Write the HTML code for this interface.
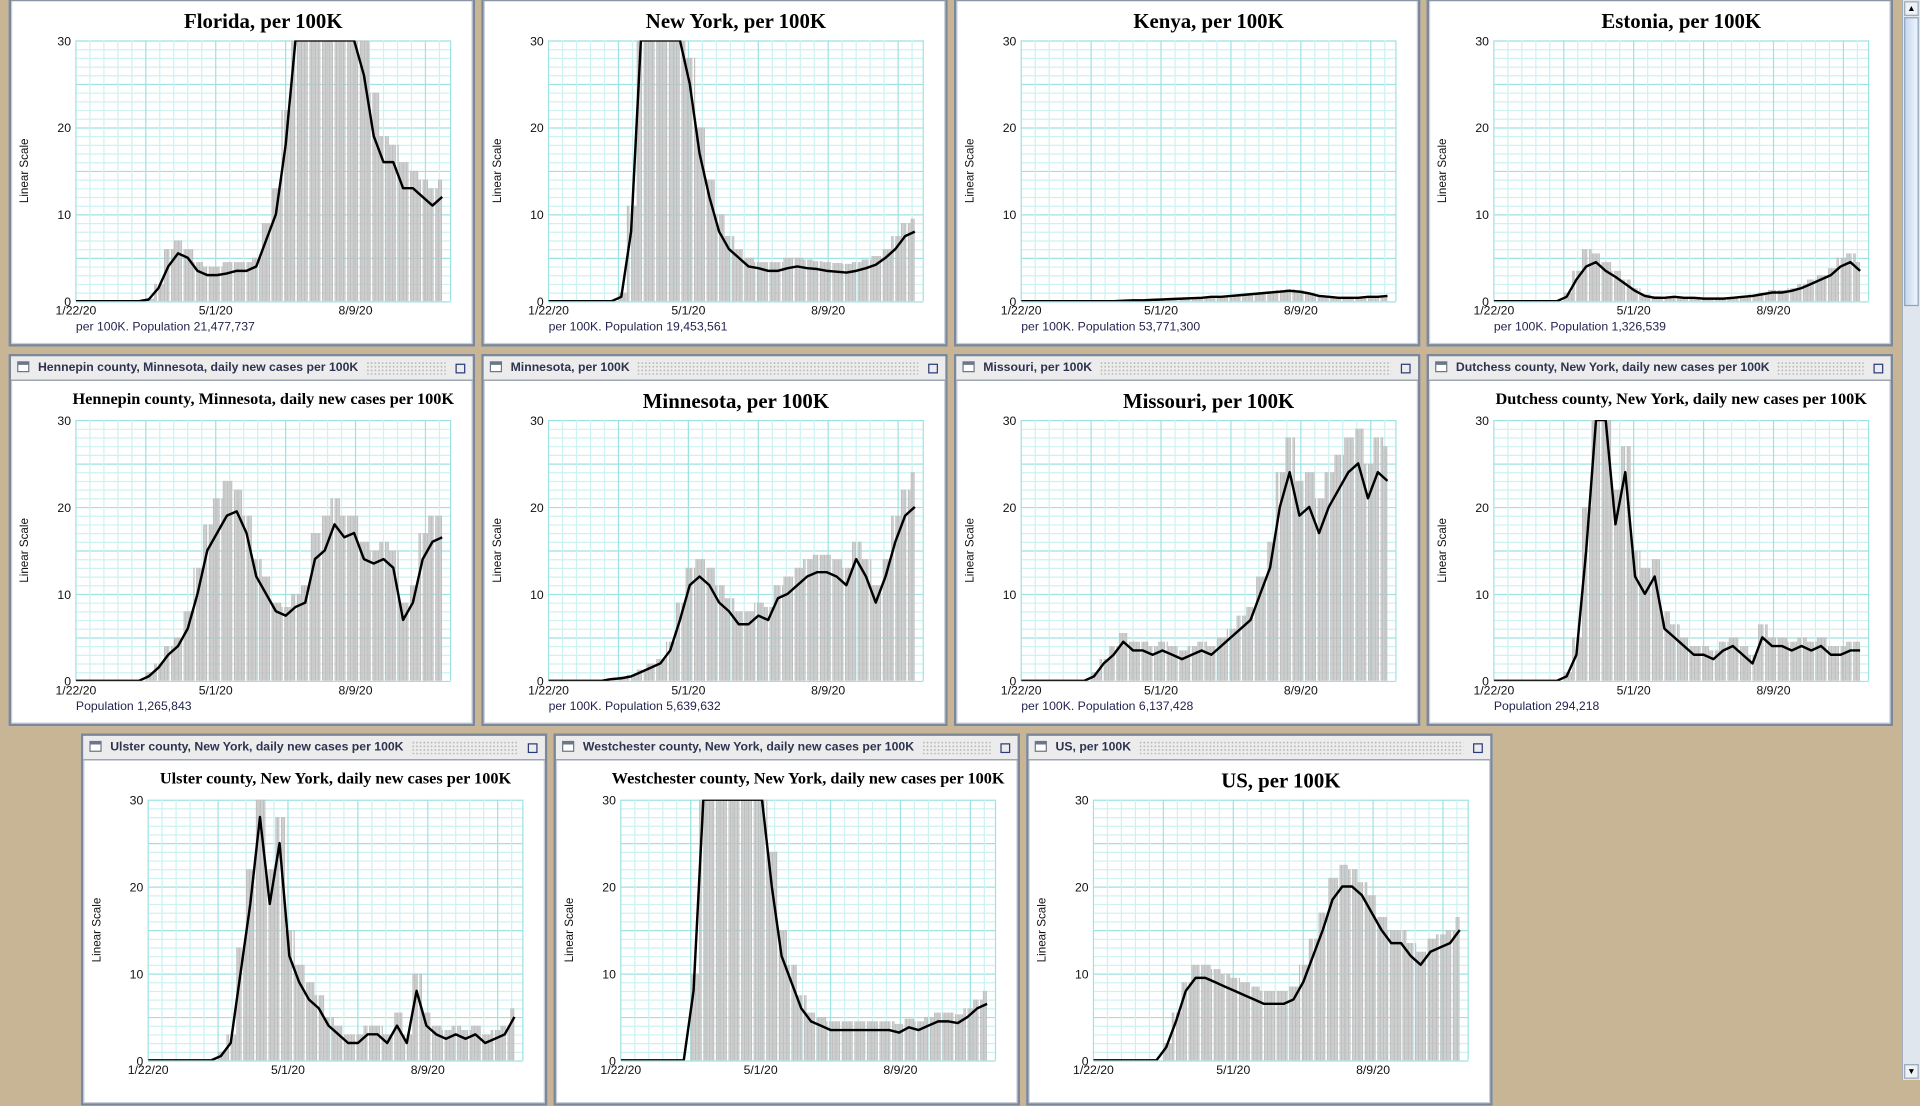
<!DOCTYPE html>
<html><head><meta charset="utf-8">
<style>
html,body{margin:0;padding:0;width:1920px;height:1080px;overflow:hidden;background:#c8b596;}
#stage{position:absolute;left:0;top:0;width:1568px;height:882px;transform:scale(1.22449);transform-origin:0 0;background:#c8b596;}
.panel{position:absolute;width:381px;height:304px;box-sizing:border-box;border:2px solid #7a889a;background:#fff;box-shadow:inset 0 0 0 1px #c9d0da;overflow:hidden;}
.tbar{position:absolute;left:0;top:0;right:0;height:19px;background:#ececec;border-bottom:1px solid #8a96a6;font:bold 10px "Liberation Sans",sans-serif;color:#2e3350;}
.tbar .ic{position:absolute;left:5px;top:4px;width:10px;height:9px;border:1px solid #6b7788;border-top-width:3px;background:#fff;box-sizing:border-box;}
.tbar .tx{position:absolute;left:22px;top:4px;white-space:nowrap;}
.tbar .dots{position:absolute;right:22px;top:4px;height:11px;background-image:radial-gradient(#b8b8b8 0.6px,transparent 0.7px);background-size:3px 3px;}
.tbar .mx{position:absolute;right:6px;top:6px;width:6px;height:6px;border:1px solid #2a3a7a;}
svg{position:absolute;left:0;top:20px;}
#scroll{position:absolute;left:1553px;top:0;width:15px;height:882px;background:#dfe6ee;border-left:1px solid #9aa6b4;box-sizing:border-box;}
</style></head>
<body>
<div id="stage">
<div id="scroll">
 <div style="position:absolute;left:1px;top:1px;width:12px;height:12px;background:#eef2f6;border:1px solid #9aa6b4;box-sizing:border-box;font:7px sans-serif;text-align:center;line-height:11px">▲</div>
 <div style="position:absolute;left:1px;top:14px;width:12px;height:236px;background:linear-gradient(90deg,#c7d8ee,#eef4fb);border:1px solid #8ea2bd;box-sizing:border-box;"></div>
 <div style="position:absolute;left:1px;bottom:1px;width:12px;height:12px;background:#eef2f6;border:1px solid #9aa6b4;box-sizing:border-box;font:7px sans-serif;text-align:center;line-height:11px">▼</div>
</div>
</div>
<script>
// weekly values starting 1/22/20 (week index 0..37)
const weeks = 38;
const xTickLabels = ["1/22/20","5/1/20","8/9/20"];
const xTickDays = [0,100,200];
const yTicks = [0,10,20,30];

const floridaLine = [0,0,0,0,0,0,0,0.2,1.5,4,5.5,5,3.5,3,3,3.2,3.5,3.5,4,7,10,18,32,40,45,45,42,40,34,26,19,16,16,13,13,12,11,12];
const floridaBars = [0,0,0,0,0,0,0,0.3,2,6,7,6,4.5,4,4,4.5,4.5,4.5,5,9,13,22,35,45,50,50,46,44,38,30,24,19,18,16,15,14,13,14];
const newYorkLine = [0,0,0,0,0,0,0,0.5,8,30,45,50,45,35,25,17,12,8,6,5,4,3.8,3.5,3.5,3.8,4,3.8,3.7,3.5,3.4,3.3,3.5,3.8,4.2,5,6,7.5,8];
const newYorkBars = [0,0,0,0,0,0,0,1,11,35,50,55,50,40,28,20,14,10,7.5,6,5,4.5,4.5,4.5,5,5,4.8,4.6,4.5,4.4,4.3,4.5,4.8,5.2,6,7.5,9,9.5];
const kenyaLine = [0,0,0,0,0,0,0,0,0,0,0.05,0.1,0.1,0.15,0.2,0.25,0.3,0.35,0.4,0.5,0.5,0.6,0.7,0.8,0.9,1.0,1.1,1.2,1.1,0.9,0.6,0.5,0.4,0.4,0.4,0.5,0.5,0.6];
const kenyaBars = [0,0,0,0,0,0,0,0,0,0,0.1,0.15,0.15,0.2,0.3,0.3,0.4,0.45,0.5,0.6,0.6,0.7,0.8,0.9,1.0,1.1,1.3,1.4,1.3,1.0,0.7,0.6,0.5,0.5,0.5,0.6,0.6,0.7];
const estoniaLine = [0,0,0,0,0,0,0,0.5,2.5,4,4.5,3.5,2.8,2,1.2,0.6,0.4,0.4,0.5,0.4,0.4,0.3,0.3,0.3,0.4,0.5,0.6,0.8,1,1,1.2,1.5,2,2.5,3,4,4.5,3.5];
const estoniaBars = [0,0,0,0,0,0,0,1,3.5,6,5.5,4.5,3.5,2.5,1.5,0.8,0.6,0.5,0.6,0.5,0.5,0.4,0.4,0.4,0.5,0.6,0.8,1,1.3,1.3,1.5,2,2.5,3,3.8,5,5.5,4.5];
const hennepinLine = [0,0,0,0,0,0,0,0.5,1.5,3,4,6,10,15,17,19,19.5,17,12,10,8,7.5,8.5,9,14,15,18,16.5,17,14,13.5,14,13,7,9,14,16,16.5];
const hennepinBars = [0,0,0,0,0,0,0,1,2,4,5,8,13,18,21,23,22,19,14,12,9,8.5,10,11,17,19,21,19,19,16,15,16,15,9,11,17,19,19];
const minnesotaLine = [0,0,0,0,0,0,0.2,0.3,0.5,1,1.5,2,3.5,7,11,12,11,9,8,6.5,6.5,7.5,7,9.5,10,11,12,12.5,12.5,12,11,14,12,9,12,16,19,20];
const minnesotaBars = [0,0,0,0,0,0,0.3,0.5,0.7,1.3,2,2.5,4.5,9,13,14,13,11,9.5,8,8,9,8.5,11,12,13,14,14.5,14.5,14,13,16,14,11,14,19,22,24];
const missouriLine = [0,0,0,0,0,0,0,0.5,2,3,4.5,3.5,3.5,3,3.5,3,2.5,3,3.5,3,4,5,6,7,10,13,20,24,19,20,17,20,22,24,25,21,24,23];
const missouriBars = [0,0,0,0,0,0,0,1,2.5,4,5.5,4.5,4.5,4,4.5,4,3.5,4,4.5,4,5,6,7.5,8.5,12,16,24,28,23,24,21,24,26,28,29,25,28,27];
const dutchessLine = [0,0,0,0,0,0,0,0.5,3,15,35,32,18,24,12,10,12,6,5,4,3,3,2.5,3.5,4,3,2,5,4,4,3.5,4,3.5,4,3,3,3.5,3.5];
const dutchessBars = [0,0,0,0,0,0,0,1,5,20,38,38,22,27,15,13,14,8,6.5,5,4,4,3.5,4.5,5,4,3,6.5,5,5,4.5,5,4.5,5,4,4,4.5,4.5];
const ulsterLine = [0,0,0,0,0,0,0,0.5,2,10,18,28,18,25,12,9,7,6,4,3,2,2,3,3,2,4,2,8,4,3,2.5,3,2.5,3,2,2.5,3,5];
const ulsterBars = [0,0,0,0,0,0,0,1,3,13,22,32,22,28,15,11,9,7.5,5,4,3,3,4,4,3,5.5,3,10,5.5,4,3.5,4,3.5,4,3,3.5,4,6];
const westchesterLine = [0,0,0,0,0,0,0,8,32,50,60,55,45,36,30,20,12,9,6,4.5,4,3.5,3.5,3.5,3.5,3.5,3.5,3.5,3.2,3.8,3.5,4,4.5,4.5,4.3,5,6,6.5];
const westchesterBars = [0,0,0,0,0,0,0,10,35,55,65,60,50,40,33,24,15,11,7.5,5.5,5,4.5,4.5,4.5,4.5,4.5,4.5,4.5,4.2,4.8,4.5,5,5.5,5.5,5.3,6,7,8];
const usLine = [0,0,0,0,0,0,0,1.5,4.5,8,9.5,9.5,9,8.5,8,7.5,7,6.5,6.5,6.5,7,9,12,15,18.5,20,20,19,17,15,13.5,13.5,12,11,12.5,13,13.5,15];
const usBars = [0,0,0,0,0,0,0,2,5.5,9,11,11,10.5,10,9.5,9,8.5,8,8,8,8.5,11,14,17,21,22.5,22,20.5,19,16.5,15,15,13.5,12.5,14,14.5,15,16.5];

const NS='http://www.w3.org/2000/svg';
const PL=53, PW=306, PH=213, TOTALDAYS=268, YMAX=30;
function xS(d){return PL+d*PW/TOTALDAYS;}
function mk(tag,attrs,parent){const e=document.createElementNS(NS,tag);for(const k in attrs)e.setAttribute(k,attrs[k]);if(parent)parent.appendChild(e);return e;}

const panels=[
 {name:'florida',x:8,top:-21,bar:'Florida, per 100K',title:'Florida, per 100K',big:true,cap:'per 100K. Population 21,477,737',line:floridaLine,bars:floridaBars},
 {name:'new-york',x:394,top:-21,bar:'New York, per 100K',title:'New York, per 100K',big:true,cap:'per 100K. Population 19,453,561',line:newYorkLine,bars:newYorkBars},
 {name:'kenya',x:780,top:-21,bar:'Kenya, per 100K',title:'Kenya, per 100K',big:true,cap:'per 100K. Population 53,771,300',line:kenyaLine,bars:kenyaBars},
 {name:'estonia',x:1166,top:-21,bar:'Estonia, per 100K',title:'Estonia, per 100K',big:true,cap:'per 100K. Population 1,326,539',line:estoniaLine,bars:estoniaBars},
 {name:'hennepin',x:8,top:289,bar:'Hennepin county, Minnesota, daily new cases per 100K',title:'Hennepin county, Minnesota, daily new cases per 100K',big:false,cap:'Population 1,265,843',line:hennepinLine,bars:hennepinBars},
 {name:'minnesota',x:394,top:289,bar:'Minnesota, per 100K',title:'Minnesota, per 100K',big:true,cap:'per 100K. Population 5,639,632',line:minnesotaLine,bars:minnesotaBars},
 {name:'missouri',x:780,top:289,bar:'Missouri, per 100K',title:'Missouri, per 100K',big:true,cap:'per 100K. Population 6,137,428',line:missouriLine,bars:missouriBars},
 {name:'dutchess',x:1166,top:289,bar:'Dutchess county, New York, daily new cases per 100K',title:'Dutchess county, New York, daily new cases per 100K',big:false,cap:'Population 294,218',line:dutchessLine,bars:dutchessBars},
 {name:'ulster',x:67,top:599,bar:'Ulster county, New York, daily new cases per 100K',title:'Ulster county, New York, daily new cases per 100K',big:false,cap:'',line:ulsterLine,bars:ulsterBars},
 {name:'westchester',x:453,top:599,bar:'Westchester county, New York, daily new cases per 100K',title:'Westchester county, New York, daily new cases per 100K',big:false,cap:'',line:westchesterLine,bars:westchesterBars},
 {name:'us',x:839,top:599,bar:'US, per 100K',title:'US, per 100K',big:true,cap:'',line:usLine,bars:usBars}
];
const stage=document.getElementById('stage');
panels.forEach((p,i)=>{
 const div=document.createElement('div');
 div.className='panel';
 div.style.left=(p.x-1)+'px';div.style.top=p.top+'px';
 
 
 div.innerHTML='<div class="tbar"><div class="ic"></div><div class="tx"></div><div class="dots"></div><div class="mx"></div></div>';
 const tb=div.querySelector('.tbar');
 
 
 const tx=div.querySelector('.tx');tx.textContent=p.bar;
 
 
 const mx=div.querySelector('.mx');
 
 
 stage.appendChild(div);
 const tw=tx.getBoundingClientRect().width/1.22449;
 const dots=div.querySelector('.dots');dots.style.left=(22+tw+6)+'px';
 const svg=mk('svg',{width:377,height:282},div);
 
 
 const PT=32, PB=PT+PH;
 const yS=v=>PB-Math.min(v,YMAX)*PH/YMAX;
 const t=mk('text',{x:PL+PW/2,y:p.big?22:19,'text-anchor':'middle','font-family':'"Liberation Serif",serif','font-weight':'bold','font-size':p.big?17:13.3,fill:'#000'},svg);
 t.textContent=p.title;
 
 
 const g=mk('g',{},svg);
 
 
 for(let v=0;v<=YMAX;v++){
  mk('line',{x1:PL,x2:PL+PW,y1:yS(v)+0.5,y2:yS(v)+0.5,stroke:v%5==0?'#9fe2e2':'#cdf2f2','stroke-width':1},g);
 }
 for(let d=0;d<=TOTALDAYS;d+=10){
  mk('line',{x1:xS(d),x2:xS(d),y1:PT,y2:PB,stroke:d%50==0?'#9fe2e2':'#cdf2f2','stroke-width':1},g);
 }
 mk('line',{x1:PL+PW,x2:PL+PW,y1:PT,y2:PB,stroke:'#9fe2e2'},g);
 const cid='c'+i;
 const cp=mk('clipPath',{id:cid},svg);mk('rect',{x:PL,y:PT,width:PW,height:PH},cp);
 const bg=mk('g',{'clip-path':'url(#'+cid+')'},svg);
 
 
 for(let d=0;d<weeks*7-4;d++){
  const v=p.bars[Math.floor(d/7)];
  if(!v) continue;
  if(d%9==4) continue;
  const r=mk('rect',{x:xS(d),y:yS(v),width:PW/TOTALDAYS*0.85,height:PB-yS(v),fill:'#c0c0c0'},bg);
  
  
 }
 const pts=[[xS(0),yS(p.line[0])]];
 p.line.forEach((v,w)=>pts.push([xS(w*7+3),yS(v)]));
 const pl=mk('polyline',{points:pts.map(q=>q[0].toFixed(1)+','+q[1].toFixed(1)).join(' '),fill:'none',stroke:'#000','stroke-width':2,'stroke-linejoin':'round','clip-path':'url(#'+cid+')'},svg);
 
 
 yTicks.forEach(v=>{
  const tt=mk('text',{x:PL-4,y:yS(v)+4,'text-anchor':'end','font-family':'"Liberation Sans",sans-serif','font-size':10,fill:'#111'},svg);
  tt.textContent=v;
  
  
 });
 const yl=mk('text',{x:0,y:0,transform:'translate('+(PL-39)+','+(PT+PH/2)+') rotate(-90)','text-anchor':'middle','font-family':'"Liberation Sans",sans-serif','font-size':9.5,fill:'#111'},svg);
 yl.textContent='Linear Scale';
 
 
 xTickDays.forEach((d,k)=>{
  const xt=mk('text',{x:xS(d),y:PB+11,'text-anchor':'middle','font-family':'"Liberation Sans",sans-serif','font-size':10,fill:'#111'},svg);
  xt.textContent=xTickLabels[k];
  
  
 });
 if(p.cap){
  const c=mk('text',{x:PL,y:PB+24,'font-family':'"Liberation Sans",sans-serif','font-size':10,fill:'#242450'},svg);
  c.textContent=p.cap;
  
  
 }
});
</script>
</body></html>
